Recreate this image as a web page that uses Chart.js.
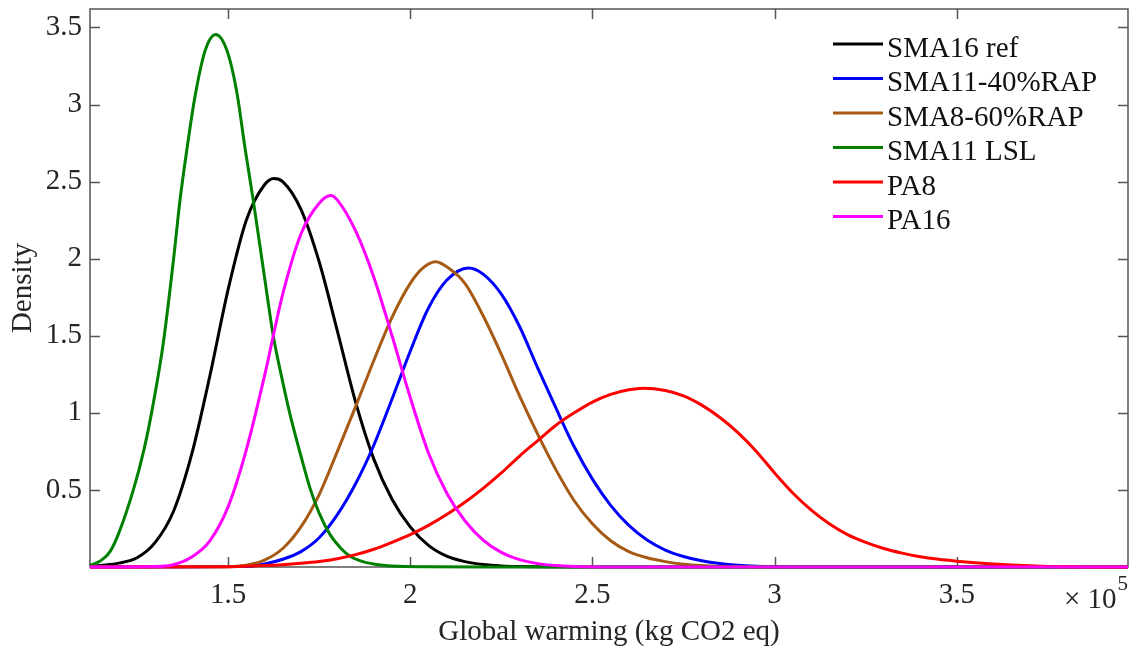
<!DOCTYPE html>
<html>
<head>
<meta charset="utf-8">
<script src="https://cdn.jsdelivr.net/npm/chart.js@4.4.1/dist/chart.umd.min.js"></script>
<style>
  html, body { margin: 0; padding: 0; background: #fff; }
  #wrap { width: 1131px; height: 650px; }
</style>
</head>
<body>
<div id="wrap"><canvas id="chart" width="1131" height="650"></canvas></div>
<script>
// Densities of global warming (x in units of 1e5 kg CO2 eq)
const seriesNames = ["SMA16 ref", "SMA11-40%RAP", "SMA8-60%RAP", "SMA11 LSL", "PA8", "PA16"];
const seriesColors = ["#000000", "#0000ff", "#a65a14", "#008000", "#ff0000", "#ff00ff"];

const sma16X = [1.121, 1.15, 1.20, 1.25, 1.30, 1.35, 1.40, 1.45, 1.50, 1.55, 1.60, 1.626, 1.65, 1.70, 1.75, 1.80, 1.85, 1.90, 1.95, 2.00, 2.05, 2.10, 2.15, 2.20, 2.25, 2.30, 2.35, 2.45, 3.97];
const sma16Y = [0.003, 0.01, 0.025, 0.06, 0.16, 0.36, 0.73, 1.24, 1.80, 2.25, 2.48, 2.52, 2.50, 2.32, 1.98, 1.53, 1.07, 0.70, 0.44, 0.26, 0.14, 0.07, 0.035, 0.016, 0.007, 0.003, 0.001, 0, 0];

const sma11RapX = [1.121, 1.55, 1.60, 1.65, 1.70, 1.75, 1.80, 1.85, 1.90, 1.95, 2.00, 2.05, 2.10, 2.16, 2.20, 2.25, 2.30, 2.35, 2.40, 2.45, 2.50, 2.55, 2.60, 2.65, 2.70, 2.75, 2.80, 2.85, 2.90, 2.95, 3.00, 3.10, 3.97];
const sma11RapY = [0, 0.005, 0.02, 0.05, 0.10, 0.19, 0.34, 0.54, 0.79, 1.09, 1.40, 1.68, 1.86, 1.94, 1.90, 1.77, 1.56, 1.29, 1.03, 0.78, 0.57, 0.40, 0.27, 0.175, 0.11, 0.068, 0.04, 0.022, 0.011, 0.005, 0.002, 0, 0];

const sma8RapX = [1.121, 1.50, 1.55, 1.60, 1.65, 1.70, 1.75, 1.80, 1.85, 1.90, 1.95, 2.00, 2.035, 2.07, 2.105, 2.15, 2.20, 2.25, 2.30, 2.35, 2.40, 2.45, 2.50, 2.55, 2.60, 2.65, 2.70, 2.75, 2.80, 2.85, 2.90, 3.00, 3.97];
const sma8RapY = [0, 0.002, 0.012, 0.045, 0.12, 0.26, 0.47, 0.75, 1.04, 1.34, 1.62, 1.84, 1.94, 1.98, 1.94, 1.84, 1.63, 1.38, 1.11, 0.86, 0.63, 0.43, 0.28, 0.17, 0.10, 0.06, 0.035, 0.018, 0.009, 0.004, 0.002, 0, 0];

const sma11LslX = [1.121, 1.15, 1.176, 1.20, 1.24, 1.27, 1.29, 1.322, 1.35, 1.368, 1.387, 1.409, 1.437, 1.466, 1.497, 1.524, 1.547, 1.569, 1.60, 1.624, 1.65, 1.67, 1.70, 1.725, 1.75, 1.78, 1.81, 1.835, 1.87, 1.918, 1.97, 2.05, 2.20, 3.97];
const sma11LslY = [0.01, 0.04, 0.10, 0.22, 0.50, 0.77, 1.0, 1.45, 1.99, 2.38, 2.71, 3.05, 3.35, 3.455, 3.35, 3.08, 2.71, 2.38, 1.88, 1.50, 1.20, 0.99, 0.72, 0.51, 0.35, 0.21, 0.12, 0.07, 0.035, 0.013, 0.005, 0.002, 0, 0];

const pa8X = [1.121, 1.50, 1.55, 1.60, 1.65, 1.70, 1.75, 1.80, 1.85, 1.90, 1.95, 2.00, 2.05, 2.10, 2.15, 2.20, 2.25, 2.30, 2.35, 2.40, 2.45, 2.50, 2.55, 2.60, 2.64, 2.70, 2.75, 2.80, 2.85, 2.90, 2.95, 3.00, 3.05, 3.10, 3.15, 3.20, 3.25, 3.30, 3.35, 3.40, 3.45, 3.50, 3.55, 3.60, 3.65, 3.70, 3.75, 3.80, 3.90, 3.97];
const pa8Y = [0, 0.002, 0.005, 0.009, 0.015, 0.024, 0.036, 0.054, 0.08, 0.115, 0.16, 0.21, 0.27, 0.34, 0.42, 0.51, 0.61, 0.72, 0.82, 0.92, 1.00, 1.07, 1.12, 1.15, 1.16, 1.145, 1.11, 1.05, 0.97, 0.87, 0.75, 0.61, 0.48, 0.37, 0.28, 0.21, 0.16, 0.12, 0.09, 0.066, 0.05, 0.038, 0.028, 0.02, 0.013, 0.008, 0.004, 0.002, 0, 0];

const pa16X = [1.121, 1.30, 1.35, 1.40, 1.45, 1.50, 1.55, 1.60, 1.65, 1.70, 1.75, 1.782, 1.80, 1.85, 1.90, 1.95, 2.00, 2.05, 2.10, 2.15, 2.20, 2.25, 2.30, 2.35, 2.40, 2.45, 2.55, 3.97];
const pa16Y = [0, 0.003, 0.015, 0.065, 0.17, 0.39, 0.76, 1.24, 1.77, 2.16, 2.36, 2.41, 2.38, 2.18, 1.88, 1.50, 1.10, 0.74, 0.48, 0.30, 0.175, 0.095, 0.048, 0.022, 0.009, 0.003, 0, 0];

const seriesX = [sma16X, sma11RapX, sma8RapX, sma11LslX, pa8X, pa16X];
const seriesY = [sma16Y, sma11RapY, sma8RapY, sma11LslY, pa8Y, pa16Y];

const xTickVals = [1.5, 2, 2.5, 3, 3.5];
const yTickVals = [0.5, 1, 1.5, 2, 2.5, 3, 3.5];
const X_MIN = 1.121, X_MAX = 3.97;
const Y_MIN = 0, Y_MAX = 3.62;

const FONT = "'Liberation Serif', 'Times New Roman', serif";
const TEXT = "#262626";
const AXIS = "#555555";
const TICK_LEN = 10;

// box round the plot with inward ticks on all four sides
const boxAxes = {
  id: "boxAxes",
  beforeDatasetsDraw(chart) {
    const { ctx, chartArea: a, scales } = chart;
    ctx.save();
    ctx.strokeStyle = AXIS;
    ctx.lineWidth = 1.5;
    ctx.strokeRect(a.left, a.top, a.right - a.left, a.bottom - a.top);
    ctx.beginPath();
    xTickVals.forEach((v) => {
      const px = Math.round(scales.x.getPixelForValue(v)) + 0.5;
      ctx.moveTo(px, a.bottom); ctx.lineTo(px, a.bottom - TICK_LEN);
      ctx.moveTo(px, a.top); ctx.lineTo(px, a.top + TICK_LEN);
    });
    yTickVals.forEach((v) => {
      const py = Math.round(scales.y.getPixelForValue(v)) + 0.5;
      ctx.moveTo(a.left, py); ctx.lineTo(a.left + TICK_LEN, py);
      ctx.moveTo(a.right, py); ctx.lineTo(a.right - TICK_LEN, py);
    });
    ctx.stroke();
    ctx.restore();
  },
  afterDraw(chart) {
    const { ctx, chartArea: a } = chart;
    ctx.save();
    ctx.fillStyle = TEXT;
    ctx.textBaseline = "alphabetic";
    ctx.textAlign = "right";
    ctx.font = `21px ${FONT}`;
    ctx.fillText("5", a.right, a.bottom + 23);
    const w5 = ctx.measureText("5").width;
    ctx.font = `29px ${FONT}`;
    ctx.fillText("\u00d7 10", a.right - w5 - 1, a.bottom + 41);
    ctx.restore();
  },
};

// legend drawn inside the plot, top right
const insideLegend = {
  id: "insideLegend",
  afterDatasetsDraw(chart) {
    const { ctx, chartArea: a } = chart;
    ctx.save();
    ctx.font = `29px ${FONT}`;
    ctx.textBaseline = "alphabetic";
    ctx.textAlign = "left";
    chart.data.datasets.forEach((ds, i) => {
      const y = a.top + 35 + i * 34.5;
      const x0 = a.right - 295;
      ctx.strokeStyle = ds.borderColor;
      ctx.lineWidth = 3;
      ctx.beginPath();
      ctx.moveTo(x0, y);
      ctx.lineTo(x0 + 50, y);
      ctx.stroke();
      ctx.fillStyle = "#111";
      ctx.fillText(ds.label, x0 + 54, y + 12.5);
    });
    ctx.restore();
  },
};

const datasets = seriesNames.map((name, i) => ({
  label: name,
  data: seriesX[i].map((x, j) => ({ x: x, y: seriesY[i][j] })),
  borderColor: seriesColors[i],
  backgroundColor: seriesColors[i],
  borderWidth: 3,
  pointRadius: 0,
  cubicInterpolationMode: "monotone",
  fill: false,
  clip: 4,
  order: seriesNames.length - i,
}));

new Chart(document.getElementById("chart"), {
  type: "line",
  data: { datasets },
  options: {
    responsive: false,
    devicePixelRatio: 1,
    animation: false,
    events: [],
    layout: { padding: { left: 0, right: 3, top: 9, bottom: 0 } },
    plugins: { legend: { display: false }, tooltip: { enabled: false } },
    scales: {
      x: {
        type: "linear",
        min: X_MIN,
        max: X_MAX,
        afterBuildTicks: (s) => { s.ticks = xTickVals.map((v) => ({ value: v })); },
        afterFit: (s) => { s.height = 83; s.paddingLeft = 0; s.paddingRight = 0; },
        grid: { display: false, drawTicks: false },
        border: { display: false },
        ticks: {
          autoSkip: false,
          maxRotation: 0,
          padding: 11,
          color: TEXT,
          font: { family: FONT, size: 29 },
          callback: (v) => String(v),
        },
        title: {
          display: true,
          text: "Global warming (kg CO2 eq)",
          color: TEXT,
          font: { family: FONT, size: 29 },
          padding: { top: 0, bottom: 0 },
        },
      },
      y: {
        min: Y_MIN,
        max: Y_MAX,
        afterBuildTicks: (s) => { s.ticks = yTickVals.map((v) => ({ value: v })); },
        afterFit: (s) => { s.width = 90; s.paddingTop = 0; s.paddingBottom = 0; },
        grid: { display: false, drawTicks: false },
        border: { display: false },
        ticks: {
          autoSkip: false,
          padding: 8,
          color: TEXT,
          font: { family: FONT, size: 29 },
          callback: (v) => String(v),
        },
        title: {
          display: true,
          text: "Density",
          color: TEXT,
          font: { family: FONT, size: 29 },
          padding: { top: 6, bottom: 0 },
        },
      },
    },
  },
  plugins: [boxAxes, insideLegend],
});
</script>
</body>
</html>
